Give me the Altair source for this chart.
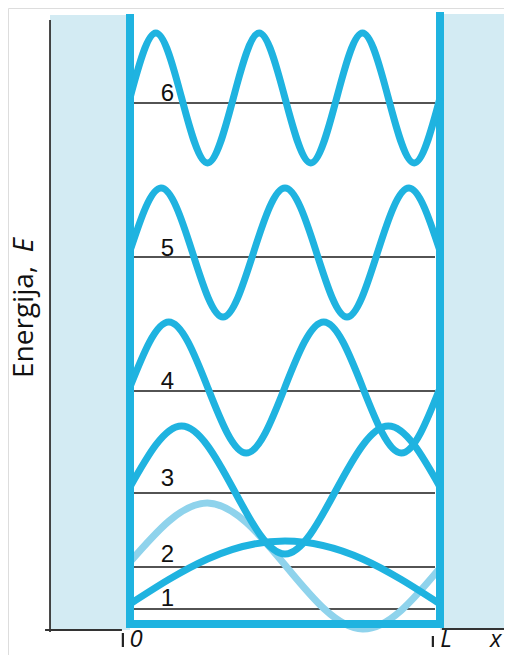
import altair as alt
import pandas as pd

# ---- data (x in units of L, y in arbitrary energy units) ----
levels = ["1", "2", "3", "4", "5", "6"]
level_E = [1.5, 5.7, 13.1, 23.3, 36.7, 52.1]
label_E = [1.8, 6.2, 13.8, 23.5, 36.8, 52.3]
label_x = [0.121, 0.121, 0.121, 0.121, 0.121, 0.121]
level_end = 0.984

# wavefunction values read at zeros / extremes, evenly spaced over 0..L
psi1 = [2.0, 6.5, 8.3, 6.5, 2.0]
psi2 = [6.2, 12.1, 5.9, -0.5, 5.6]
psi3 = [13.7, 19.8, 13.5, 7.0, 13.5, 19.8, 13.7]
psi4 = [23.7, 30.2, 23.7, 17.1, 23.7, 30.2, 23.7, 17.1, 23.6]
psi5 = [37.3, 43.6, 37.3, 30.7, 37.3, 43.6, 37.3, 30.7, 37.3, 43.6, 37.3]
psi6 = [52.6, 59.1, 52.6, 46.1, 52.6, 59.1, 52.6, 46.1, 52.6, 59.1, 52.6, 46.1, 52.6]

x_ticks = ["0", "L"]
x_ticks_pos = [0.02, 1.019]

# ---- layout ----
W, H = 496, 647
XD = [(8 - 130) / 310, (8 + W - 130) / 310]
YD = [(624 - 8 - H) / 10, (624 - 8) / 10]

BLUE = "#1fb3e0"
LIGHT = "#8fd3ec"
BG = "#d3ebf3"


def X(f):
    return alt.X(f, type="quantitative", scale=alt.Scale(domain=XD, nice=False, zero=False), axis=None)


def Y(f):
    return alt.Y(f, type="quantitative", scale=alt.Scale(domain=YD, nice=False, zero=False), axis=None)


def wave_df(n, vals):
    m = len(vals) - 1
    return pd.DataFrame({"n": [n] * len(vals), "x": [k / m for k in range(len(vals))], "y": vals})


dark = pd.concat([wave_df(1, psi1), wave_df(3, psi3), wave_df(4, psi4),
                  wave_df(5, psi5), wave_df(6, psi6)], ignore_index=True)
light = wave_df(2, psi2)

bg = pd.DataFrame({"x0": [-0.258, 1.0], "x1": [0.0, XD[1]], "y0": [-0.6, -0.6], "y1": [60.9, 61.0]})
bg_layer = alt.Chart(bg).mark_rect(color=BG).encode(x=X("x0"), x2="x1", y=Y("y0"), y2="y1")

vaxis = pd.DataFrame({"x": [-0.258], "y0": [-0.8], "y1": [60.4]})
vaxis_layer = alt.Chart(vaxis).mark_rule(color="#333", strokeWidth=1.8).encode(x=X("x"), y=Y("y0"), y2="y1")
haxis = pd.DataFrame({"x0": [-0.274, 1.006], "x1": [-0.026, XD[1]], "y": [-0.6, -0.5]})
haxis_layer = alt.Chart(haxis).mark_rule(color="#333", strokeWidth=1.8).encode(x=X("x0"), x2="x1", y=Y("y"))

lev = pd.DataFrame({"lab": levels, "y": level_E, "ly": label_E, "lx": label_x,
                    "x0": [0.0] * 6, "x1": [level_end] * 6})
lev_layer = alt.Chart(lev).mark_rule(color="#1a1a1a", strokeWidth=1.7).encode(x=X("x0"), x2="x1", y=Y("y"))
lab_layer = alt.Chart(lev).mark_text(font="Liberation Sans", fontSize=24, color="#111",
                                     align="center", baseline="alphabetic").encode(
    x=X("lx"), y=Y("ly"), text="lab")

light_layer = alt.Chart(light).mark_line(color=LIGHT, strokeWidth=7, interpolate="natural").encode(
    x=X("x"), y=Y("y"))

wv = pd.DataFrame({"x": [0.0, 1.0], "y0": [-0.4, -0.4], "y1": [61.0, 61.2]})
wv_layer = alt.Chart(wv).mark_rule(color=BLUE, strokeWidth=8).encode(x=X("x"), y=Y("y0"), y2="y1")
wh = pd.DataFrame({"x0": [-0.0129], "x1": [1.0129], "y": [0.0]})
wh_layer = alt.Chart(wh).mark_rule(color=BLUE, strokeWidth=8).encode(x=X("x0"), x2="x1", y=Y("y"))

dark_layer = alt.Chart(dark).mark_line(color=BLUE, strokeWidth=7, interpolate="natural").encode(
    x=X("x"), y=Y("y"), detail="n:N")

ticks = pd.DataFrame({"x": [-0.023, 0.977], "y0": [-0.9, -1.2], "y1": [-2.3, -2.3]})
ticks_layer = alt.Chart(ticks).mark_rule(color="#222", strokeWidth=2.2).encode(x=X("x"), y=Y("y0"), y2="y1")

xt = pd.DataFrame({"t": x_ticks + ["x"], "x": x_ticks_pos + [1.18], "y": [-2.3, -2.3, -2.3]})
xt_layer = alt.Chart(xt).mark_text(font="Open Sans", fontStyle="italic", fontSize=24, color="#111",
                                   align="center", baseline="alphabetic").encode(x=X("x"), y=Y("y"), text="t")

yt1 = pd.DataFrame({"t": ["Energija,"], "x": [-0.313], "y": [24.6]})
yt1_layer = alt.Chart(yt1).mark_text(font="Open Sans", fontSize=28, color="#111", angle=270,
                                     align="left", baseline="alphabetic").encode(x=X("x"), y=Y("y"), text="t")
yt2 = pd.DataFrame({"t": ["E"], "x": [-0.313], "y": [38.6]})
yt2_layer = alt.Chart(yt2).mark_text(font="Open Sans", fontStyle="italic", fontSize=28, color="#111", angle=270,
                                     align="right", baseline="alphabetic").encode(x=X("x"), y=Y("y"), text="t")

chart = alt.layer(
    bg_layer, vaxis_layer, haxis_layer, lev_layer, light_layer, wv_layer, wh_layer,
    dark_layer, lab_layer, ticks_layer, xt_layer, yt1_layer, yt2_layer
).properties(width=W, height=H, padding=0,
             autosize=alt.AutoSizeParams(type="none")).configure_view(strokeWidth=0).configure(background="white")

chart.save("out.html", embed_options={"renderer": "svg", "actions": False})
